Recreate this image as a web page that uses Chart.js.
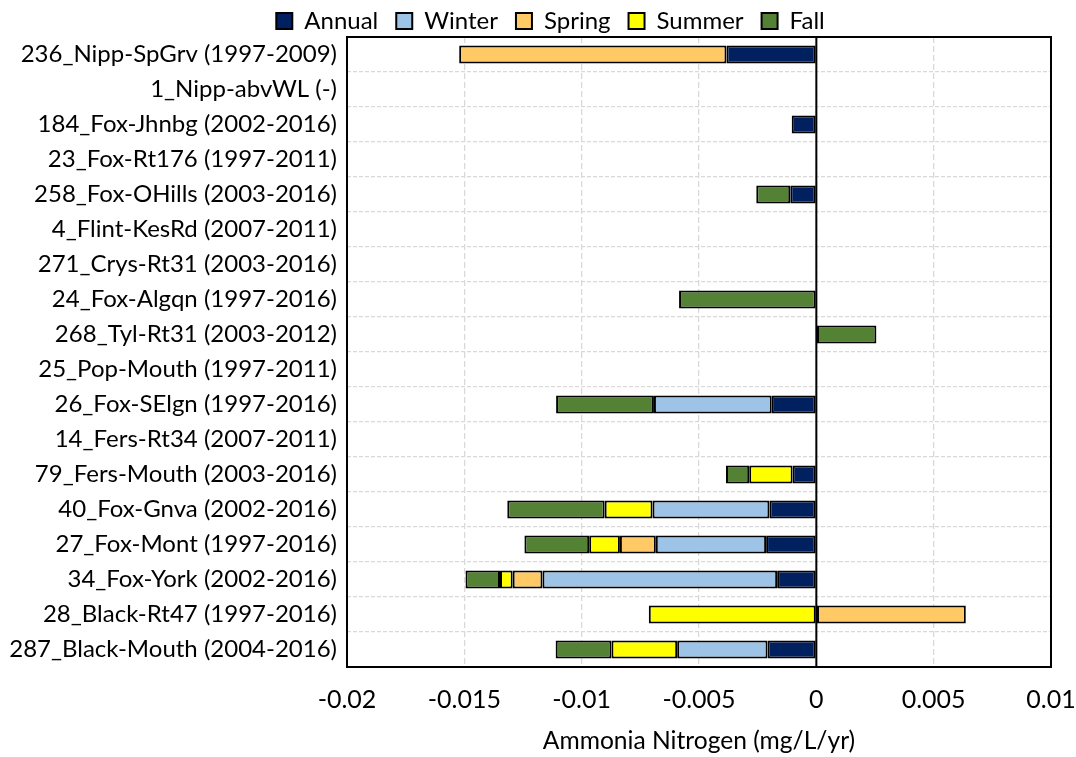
<!DOCTYPE html>
<html><head><meta charset="utf-8">
<script src="https://cdn.jsdelivr.net/npm/chart.js@4/dist/chart.umd.min.js"></script>
<style>html,body{margin:0;padding:0;background:#fff}#wrap{width:1076px;height:757px}</style>
</head><body><div id="wrap"><canvas id="c" width="1076" height="757"></canvas></div>
<script>
const categories = ["236_Nipp-SpGrv (1997-2009)","1_Nipp-abvWL (-)","184_Fox-Jhnbg (2002-2016)","23_Fox-Rt176 (1997-2011)","258_Fox-OHills (2003-2016)","4_Flint-KesRd (2007-2011)","271_Crys-Rt31 (2003-2016)","24_Fox-Algqn (1997-2016)","268_Tyl-Rt31 (2003-2012)","25_Pop-Mouth (1997-2011)","26_Fox-SElgn (1997-2016)","14_Fers-Rt34 (2007-2011)","79_Fers-Mouth (2003-2016)","40_Fox-Gnva (2002-2016)","27_Fox-Mont (1997-2016)","34_Fox-York (2002-2016)","28_Black-Rt47 (1997-2016)","287_Black-Mouth (2004-2016)"];
const annual = [-0.00383,null,-0.00105,null,-0.00111,null,null,null,null,null,-0.0019,null,-0.00101,-0.0020,-0.00214,-0.00167,null,-0.00208];
const winter = [null,null,null,null,null,null,null,null,null,null,-0.00502,null,null,-0.00498,-0.0047,-0.0100,null,-0.00385];
const spring = [-0.01139,null,null,null,null,null,null,null,null,null,null,null,null,null,-0.00153,-0.00127,0.00637,null];
const summer = [null,null,null,null,null,null,null,null,null,null,null,null,-0.00185,-0.00204,-0.00131,-0.00054,-0.00714,-0.0028];
const fall = [null,null,null,null,-0.00145,null,null,-0.00585,0.00256,null,-0.00417,null,-0.00099,-0.00415,-0.00276,-0.00147,null,-0.00238];
const xTicks = [-0.02,-0.015,-0.01,-0.005,0,0.005,0.01];
const seriesNames = ["Annual","Winter","Spring","Summer","Fall"];
const seriesColors = ["#002060","#9DC3E6","#FFCA65","#FFFF00","#548235"];
const seriesData = [annual,winter,spring,summer,fall];

const FONT = "Lato, sans-serif";
const boxPlugin = {
  id:'box',
  beforeLayout(chart){
    const lg = chart.legend;
    if(lg && !lg._patched){
      const f = lg.fit.bind(lg);
      lg.fit = function(){ f(); this.height = 46; };
      lg._patched = true;
    }
  },
  afterLayout(chart){
    const lg = chart.legend;
    if(lg){ lg.left += 25; lg.right += 25; }
  },
  afterDatasetsDraw(chart){
    const {ctx, chartArea:a, scales} = chart;
    ctx.save();
    const x0 = scales.x.getPixelForValue(0);
    ctx.strokeStyle='#000'; ctx.lineWidth=2;
    ctx.beginPath(); ctx.moveTo(x0,a.top); ctx.lineTo(x0,a.bottom); ctx.stroke();
    ctx.strokeRect(a.left,a.top,a.right-a.left,a.bottom-a.top);
    ctx.restore();
  }
};
new Chart(document.getElementById('c'),{
  type:'bar',
  data:{labels:categories,datasets:seriesNames.map((n,i)=>({label:n,data:seriesData[i],backgroundColor:seriesColors[i],borderColor:'#000',borderWidth:2,borderSkipped:false,categoryPercentage:1,barPercentage:0.52}))},
  options:{
    indexAxis:'y',responsive:false,animation:false,
    layout:{padding:{left:0,right:25,top:-9,bottom:1}},
    plugins:{
      legend:{position:'top',labels:{font:{family:FONT,size:24},color:'#000',boxWidth:16,boxHeight:16,padding:18,useBorderRadius:false}},
      tooltip:{enabled:false}
    },
    scales:{
      x:{type:'linear',stacked:true,min:-0.02,max:0.01,
        afterBuildTicks(s){s.ticks=xTicks.map(v=>({value:v}));},
        afterFit(s){s.paddingRight=0; s.height=89;},
        ticks:{font:{family:FONT,size:25},color:'#000',padding:18,callback:v=>String(v)},
        grid:{color:'#d9d9d9',lineWidth:1.3,drawTicks:false},
        border:{display:false,dash:[6,3]},
        title:{display:true,text:'Ammonia Nitrogen (mg/L/yr)',font:{family:FONT,size:24.6},color:'#000',padding:{top:0,bottom:0}}
      },
      y:{stacked:true,
        afterFit(s){s.width=347;},
        ticks:{font:{family:FONT,size:24},color:'#000',padding:10,autoSkip:false},
        grid:{color:'#d9d9d9',lineWidth:1.3,drawTicks:false,offset:true},
        border:{display:false,dash:[4,2]}
      }
    }
  },
  plugins:[boxPlugin]
});
</script></body></html>
